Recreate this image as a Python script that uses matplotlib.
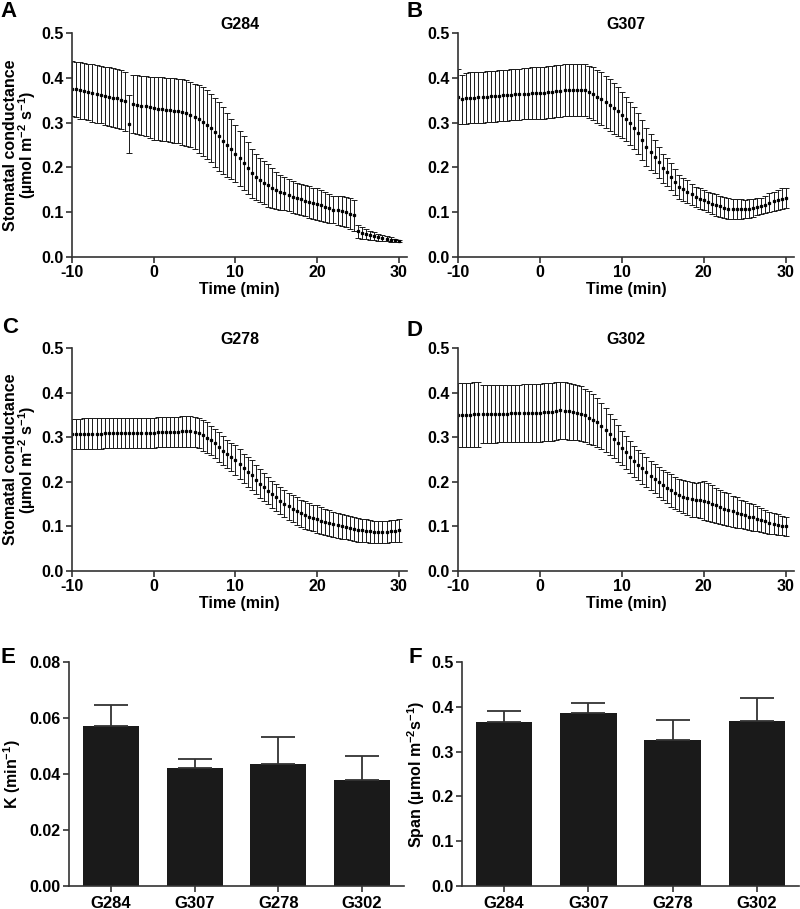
import numpy as np
import matplotlib
matplotlib.use('Agg')
import matplotlib.pyplot as plt

plt.rcParams['font.family'] = ['Liberation Sans', 'DejaVu Sans']
plt.rcParams['font.weight'] = 'bold'
plt.rcParams['axes.labelweight'] = 'bold'
plt.rcParams['axes.titleweight'] = 'bold'
plt.rcParams['mathtext.default'] = 'regular'
plt.rcParams['axes.unicode_minus'] = False

# ---- datos: conductancia estomática (media ± EE), cada 0.5 min ----
time_min = np.arange(-10, 30.5, 0.5)

g284_mean = [0.376, 0.374, 0.372, 0.370, 0.368, 0.366, 0.364, 0.362, 0.360, 0.358,
             0.356, 0.354, 0.351, 0.348, 0.297, 0.342, 0.340, 0.338, 0.336, 0.334,
             0.332, 0.331, 0.330, 0.329, 0.328, 0.327, 0.326, 0.324, 0.321, 0.318,
             0.313, 0.308, 0.302, 0.295, 0.287, 0.278, 0.269, 0.260, 0.250, 0.241,
             0.231, 0.220, 0.209, 0.198, 0.187, 0.179, 0.172, 0.166, 0.160, 0.154,
             0.149, 0.145, 0.142, 0.138, 0.134, 0.131, 0.129, 0.126, 0.123, 0.120,
             0.118, 0.115, 0.112, 0.109, 0.106, 0.104, 0.103, 0.100, 0.097, 0.093,
             0.057, 0.054, 0.051, 0.048, 0.046, 0.044, 0.043, 0.041, 0.039, 0.037,
             0.036]
g284_sem = [0.062, 0.062, 0.063, 0.063, 0.063, 0.064, 0.064, 0.064, 0.065, 0.065,
            0.065, 0.065, 0.066, 0.066, 0.064, 0.065, 0.066, 0.066, 0.067, 0.068,
            0.070, 0.070, 0.071, 0.071, 0.072, 0.072, 0.072, 0.073, 0.073, 0.073,
            0.073, 0.075, 0.077, 0.077, 0.076, 0.076, 0.077, 0.075, 0.071, 0.068,
            0.064, 0.062, 0.060, 0.058, 0.055, 0.052, 0.049, 0.048, 0.048, 0.044,
            0.041, 0.039, 0.037, 0.036, 0.035, 0.035, 0.035, 0.035, 0.035, 0.035,
            0.035, 0.034, 0.033, 0.032, 0.031, 0.032, 0.033, 0.034, 0.034, 0.035,
            0.015, 0.013, 0.011, 0.010, 0.009, 0.008, 0.007, 0.006, 0.005, 0.004,
            0.003]

g307_mean = [0.358, 0.352, 0.354, 0.355, 0.356, 0.357, 0.357, 0.358, 0.359, 0.359,
             0.360, 0.361, 0.361, 0.362, 0.363, 0.363, 0.364, 0.364, 0.365, 0.365,
             0.366, 0.367, 0.368, 0.369, 0.370, 0.371, 0.372, 0.372, 0.373, 0.373,
             0.373, 0.372, 0.369, 0.364, 0.358, 0.353, 0.347, 0.340, 0.332, 0.325,
             0.317, 0.308, 0.299, 0.288, 0.276, 0.261, 0.246, 0.235, 0.224, 0.211,
             0.198, 0.189, 0.179, 0.168, 0.157, 0.151, 0.146, 0.140, 0.134, 0.130,
             0.127, 0.123, 0.119, 0.116, 0.113, 0.110, 0.108, 0.107, 0.107, 0.107,
             0.107, 0.108, 0.110, 0.112, 0.114, 0.117, 0.121, 0.124, 0.127, 0.130,
             0.132]
g307_sem = [0.062, 0.055, 0.057, 0.057, 0.057, 0.057, 0.057, 0.057, 0.057, 0.057,
            0.057, 0.057, 0.057, 0.057, 0.057, 0.057, 0.057, 0.057, 0.058, 0.058,
            0.058, 0.058, 0.058, 0.058, 0.058, 0.058, 0.058, 0.058, 0.058, 0.058,
            0.058, 0.058, 0.058, 0.059, 0.060, 0.059, 0.058, 0.058, 0.057, 0.055,
            0.052, 0.050, 0.048, 0.046, 0.045, 0.044, 0.042, 0.040, 0.037, 0.034,
            0.032, 0.031, 0.030, 0.029, 0.027, 0.026, 0.025, 0.024, 0.023, 0.023,
            0.023, 0.023, 0.024, 0.024, 0.024, 0.024, 0.023, 0.023, 0.022, 0.022,
            0.021, 0.021, 0.020, 0.019, 0.018, 0.019, 0.021, 0.022, 0.023, 0.023,
            0.023]

g278_mean = [0.307, 0.307, 0.307, 0.308, 0.308, 0.308, 0.308, 0.308, 0.309, 0.309,
             0.309, 0.309, 0.309, 0.309, 0.309, 0.310, 0.310, 0.310, 0.310, 0.310,
             0.310, 0.311, 0.311, 0.311, 0.312, 0.312, 0.312, 0.313, 0.313, 0.313,
             0.312, 0.309, 0.304, 0.299, 0.293, 0.286, 0.278, 0.270, 0.262, 0.256,
             0.249, 0.240, 0.230, 0.222, 0.215, 0.205, 0.196, 0.188, 0.180, 0.172,
             0.165, 0.158, 0.151, 0.145, 0.140, 0.134, 0.129, 0.125, 0.122, 0.119,
             0.116, 0.113, 0.110, 0.108, 0.105, 0.103, 0.100, 0.098, 0.096, 0.094,
             0.092, 0.091, 0.090, 0.089, 0.088, 0.088, 0.088, 0.088, 0.089, 0.090,
             0.091]
g278_sem = [0.034, 0.034, 0.034, 0.034, 0.034, 0.034, 0.034, 0.034, 0.034, 0.034,
            0.034, 0.034, 0.034, 0.034, 0.034, 0.034, 0.034, 0.034, 0.034, 0.034,
            0.034, 0.034, 0.034, 0.034, 0.034, 0.034, 0.034, 0.034, 0.034, 0.034,
            0.034, 0.034, 0.034, 0.034, 0.033, 0.033, 0.034, 0.033, 0.032, 0.032,
            0.033, 0.033, 0.033, 0.033, 0.033, 0.032, 0.032, 0.031, 0.030, 0.030,
            0.031, 0.030, 0.030, 0.030, 0.030, 0.031, 0.031, 0.031, 0.030, 0.030,
            0.031, 0.030, 0.029, 0.029, 0.028, 0.028, 0.028, 0.027, 0.027, 0.027,
            0.026, 0.026, 0.026, 0.026, 0.025, 0.025, 0.025, 0.025, 0.025, 0.025,
            0.025]

g302_mean = [0.349, 0.349, 0.350, 0.350, 0.351, 0.351, 0.351, 0.352, 0.352, 0.352,
             0.353, 0.353, 0.353, 0.354, 0.354, 0.354, 0.354, 0.355, 0.355, 0.355,
             0.355, 0.356, 0.356, 0.357, 0.358, 0.360, 0.359, 0.358, 0.357, 0.355,
             0.353, 0.349, 0.344, 0.339, 0.333, 0.325, 0.316, 0.307, 0.297, 0.286,
             0.275, 0.266, 0.256, 0.246, 0.237, 0.230, 0.222, 0.214, 0.207, 0.200,
             0.193, 0.187, 0.181, 0.175, 0.170, 0.166, 0.163, 0.161, 0.159, 0.159,
             0.158, 0.155, 0.151, 0.147, 0.143, 0.140, 0.137, 0.134, 0.131, 0.128,
             0.125, 0.122, 0.120, 0.117, 0.114, 0.111, 0.108, 0.106, 0.104, 0.102,
             0.100]
g302_sem = [0.072, 0.072, 0.072, 0.072, 0.072, 0.073, 0.065, 0.064, 0.064, 0.064,
            0.064, 0.064, 0.064, 0.064, 0.064, 0.064, 0.065, 0.065, 0.065, 0.065,
            0.065, 0.065, 0.065, 0.065, 0.065, 0.064, 0.064, 0.064, 0.063, 0.062,
            0.061, 0.060, 0.059, 0.057, 0.054, 0.052, 0.049, 0.046, 0.044, 0.041,
            0.038, 0.037, 0.036, 0.035, 0.034, 0.034, 0.034, 0.033, 0.033, 0.033,
            0.034, 0.035, 0.037, 0.036, 0.036, 0.037, 0.038, 0.039, 0.039, 0.041,
            0.044, 0.043, 0.042, 0.040, 0.038, 0.037, 0.037, 0.035, 0.034, 0.032,
            0.031, 0.030, 0.030, 0.028, 0.027, 0.026, 0.025, 0.024, 0.023, 0.022,
            0.022]

# ---- datos: parámetros del ajuste ----
lineas = ['G284', 'G307', 'G278', 'G302']
k_mean = [0.0572, 0.0422, 0.0435, 0.0379]
k_sem = [0.0075, 0.0032, 0.0098, 0.0085]
span_mean = [0.365, 0.386, 0.326, 0.368]
span_sem = [0.025, 0.022, 0.044, 0.051]

SPINE = '#333333'
FS = 11.5
fig = plt.figure(figsize=(8, 9.09), dpi=100)


def eje_px(left, top, right, bottom):
    W, H = 800, 909
    return fig.add_axes([left / W, 1 - bottom / H, (right - left) / W, (bottom - top) / H])


def estilo(ax):
    for s in ['top', 'right']:
        ax.spines[s].set_visible(False)
    for s in ['left', 'bottom']:
        ax.spines[s].set_color(SPINE)
        ax.spines[s].set_linewidth(1.2)
    ax.tick_params(direction='out', length=4, width=1.2, color=SPINE,
                   labelsize=FS, pad=2)


def panel_tiempo(ax, media, ee, nombre, ylabel=True):
    ax.errorbar(time_min, media, yerr=ee, fmt='s', ms=1.4, color='black',
                ecolor='#1a1a1a', elinewidth=0.7, capsize=2, capthick=0.7)
    ax.set_xlim(-10, 31)
    ax.set_ylim(0, 0.5)
    ax.set_xticks([-10, 0, 10, 20, 30])
    ax.set_yticks([0, 0.1, 0.2, 0.3, 0.4, 0.5])
    ax.set_yticklabels(['0.0', '0.1', '0.2', '0.3', '0.4', '0.5'])
    ax.set_title(nombre, fontsize=FS, pad=3)
    ax.set_xlabel('Time (min)', fontsize=FS, labelpad=1)
    if ylabel:
        ax.set_ylabel('Stomatal conductance\n(µmol m$^{-2}$ s$^{-1}$)',
                      fontsize=FS, linespacing=0.95)
        # borde derecho de la etiqueta a ~38 px del borde de la figura
        ax.yaxis.set_label_coords(-0.1, 0.5)
    estilo(ax)


def panel_barras(ax, media, ee, ylabel, yticks, fmt, lab_x):
    x = np.arange(len(lineas))
    ax.bar(x, media, width=0.67, color='#1a1a1a',
           yerr=[np.zeros(len(media)), ee],
           error_kw=dict(ecolor='#333333', elinewidth=1.3, capsize=12, capthick=1.3))
    ax.set_xlim(-0.5, 3.5)
    ax.set_ylim(0, yticks[-1])
    ax.set_xticks(x)
    ax.set_xticklabels(lineas)
    ax.set_yticks(yticks)
    ax.set_yticklabels([fmt.format(v) for v in yticks])
    ax.set_ylabel(ylabel, fontsize=FS)
    ax.yaxis.set_label_coords(lab_x, 0.5)
    estilo(ax)
    ax.tick_params(axis='x', labelsize=12, pad=3)


axA = eje_px(72, 33, 407, 257)
axB = eje_px(458, 33, 794, 257)
axC = eje_px(72, 348, 407, 571)
axD = eje_px(458, 348, 794, 571)
axE = eje_px(69, 662, 404, 886)
axF = eje_px(462, 662, 799, 886)

panel_tiempo(axA, g284_mean, g284_sem, 'G284')
panel_tiempo(axB, g307_mean, g307_sem, 'G307', ylabel=False)
panel_tiempo(axC, g278_mean, g278_sem, 'G278')
panel_tiempo(axD, g302_mean, g302_sem, 'G302', ylabel=False)

panel_barras(axE, k_mean, k_sem, 'K (min$^{-1}$)',
             [0, 0.02, 0.04, 0.06, 0.08], '{:.2f}', -0.137)
panel_barras(axF, span_mean, span_sem, 'Span (µmol m$^{-2}$s$^{-1}$)',
             [0, 0.1, 0.2, 0.3, 0.4, 0.5], '{:.1f}', -0.104)

# letras de los paneles
for letra, (px, py) in zip('ABCDEF', [(0, 17), (407, 17), (2, 333), (407, 336),
                                      (0, 663), (408, 663)]):
    fig.text(px / 800, 1 - py / 909, letra, fontsize=16, fontweight='bold',
             ha='left', va='baseline')

fig.savefig('out.png', dpi=100)
